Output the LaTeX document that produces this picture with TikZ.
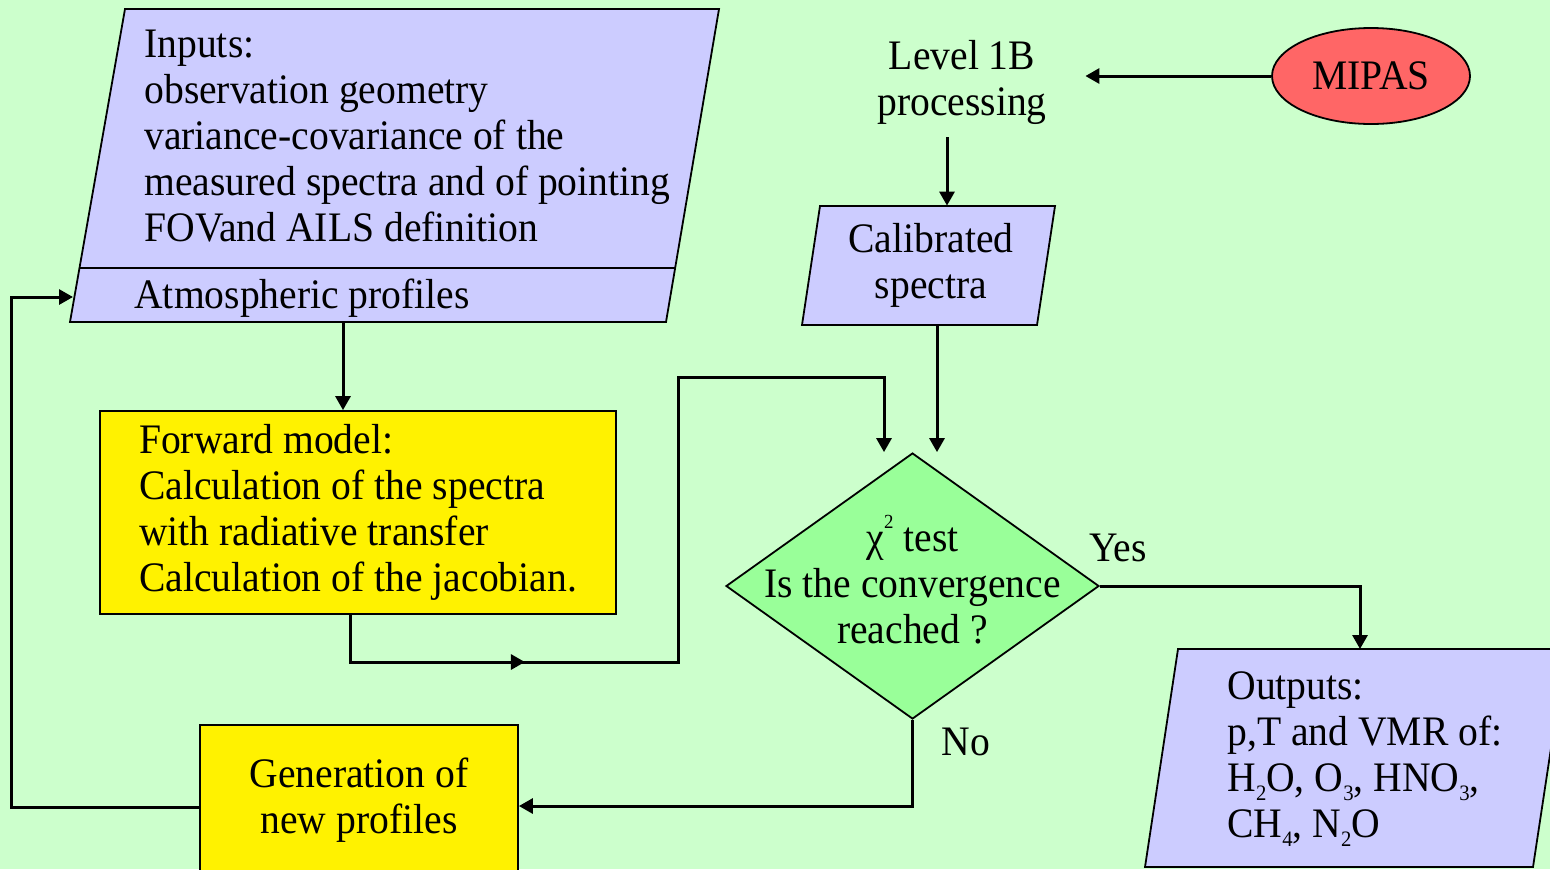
\documentclass[tikz,border=0pt]{standalone}
\usepackage{fontspec}
\setmainfont{Liberation Serif}[FakeStretch=0.943]
\usetikzlibrary{arrows.meta, shapes.geometric, decorations.markings}

\definecolor{bggreen}{HTML}{CCFFCC}
\definecolor{lilac}{HTML}{CCCCFF}
\definecolor{testgreen}{HTML}{99FF99}
\definecolor{mipasred}{HTML}{FF6666}

% small lowered / raised digits
\newcommand\lowdigit[1]{\raisebox{-0.22em}{\fontsize{11}{11}\selectfont #1}}
\newcommand\highdigit[1]{\raisebox{0.55em}{\fontsize{10}{10}\selectfont #1}}

\begin{document}
\begin{tikzpicture}[x=0.5pt,y=-0.5pt,
  every node/.style={font=\fontsize{21}{23}\selectfont},
  box/.style={draw,line width=0.9pt},
  link/.style={line width=1.5pt},
  arr/.style={line width=1.5pt,-{Triangle[length=7pt,width=7.5pt]}}]
% Canvas
\useasboundingbox (0,0) rectangle (1550,869);
\fill[bggreen] (0,0) rectangle (1550,869);
\clip (0,0) rectangle (1550,869);
% Inputs block, with the profiles strip below
\draw[box,fill=lilac] (125,9) -- (719,9) -- (666,322) -- (70,322) -- cycle;
\draw[box] (79.5,268) -- (675,268);
\node[anchor=north west,align=left,inner sep=0] (inputs) at (144,30)
  {Inputs:\\observation geometry\\variance-covariance of the\\measured spectra and of pointing\\FOVand AILS definition};
\node[anchor=base west,inner sep=0] (atmos) at (134,308) {Atmospheric profiles};
\coordinate (atm-s) at (343,322);
\coordinate (atm-w) at (73,297);
% Forward model
\node[box,fill=yellow,align=left,minimum width=258pt,minimum height=101.5pt] (forward) at (358,512.5)
  {Forward model:\\Calculation of the spectra\\with radiative transfer\\Calculation of the jacobian.};
% Level 1B and MIPAS
\node[align=center,minimum width=123pt,minimum height=55pt,inner sep=0] (level) at (962,82) {Level 1B\\processing};
\node[ellipse,box,fill=mipasred,minimum width=99pt,minimum height=48pt,inner sep=0] (mipas) at (1371,76) {MIPAS};
% Calibrated spectra
\draw[box,fill=lilac] (820,206) -- (1055,206) -- (1037,325) -- (802,325) -- cycle;
\node[align=center,minimum height=59.5pt,inner sep=0] (calib) at (931,265.5) {Calibrated\\spectra};
% Convergence test
\node[diamond,box,fill=testgreen,minimum width=186.5pt,minimum height=133pt,inner sep=0] (test) at (912.5,586) {};
\node[align=center,inner sep=0] (testtxt) at ([yshift=3pt]test.center) {χ\highdigit{2} test\\Is the convergence\\reached ?};
% Outputs
\draw[box,fill=lilac] (1178,649) -- (1566,649) -- (1533,867) -- (1145,867) -- cycle;
\node[anchor=north west,align=left,inner sep=0] (outputs) at (1227,671)
  {Outputs:\\p,T and VMR of:\\H\lowdigit{2}O, O\lowdigit{3}, HNO\lowdigit{3},\\CH\lowdigit{4}, N\lowdigit{2}O};
\coordinate (out-n) at (1360,649);
% New profiles
\node[box,fill=yellow,align=center,minimum width=159pt,minimum height=75pt] (newprof) at (359,800) {Generation of\\new profiles};
% Branch labels
\node (yes) at (1118,548) {Yes};
\node (no) at (966,742) {No};
% Connectors
\draw[arr] (mipas.west) -- (mipas.west -| level.east);
\draw[arr] ([xshift=-7.5pt]level.south) -- ([xshift=-7.5pt]level.south |- calib.north);
\draw[arr] ([xshift=3pt]calib.south) -- ([xshift=3pt]calib.south |- test.north);
\draw[arr] (atm-s) -- (atm-s |- forward.north);
\coordinate (bend1) at (678,662);
\coordinate (bend2) at (884,377);
\draw[arr,postaction={decorate},
  decoration={markings,mark=at position 111pt with {\arrow{Triangle[length=7pt,width=7.5pt]}}}]
  ([xshift=-4pt]forward.south) |- (bend1) |- (bend2) -- (bend2 |- test.north);
\draw[arr] (test.east) -| (out-n);
\draw[arr] (test.south) |- ([yshift=-3pt]newprof.east);
\draw[arr] ([yshift=-3.5pt]newprof.west) -- ++(-188,0) |- (atm-w);
\end{tikzpicture}
\end{document}
